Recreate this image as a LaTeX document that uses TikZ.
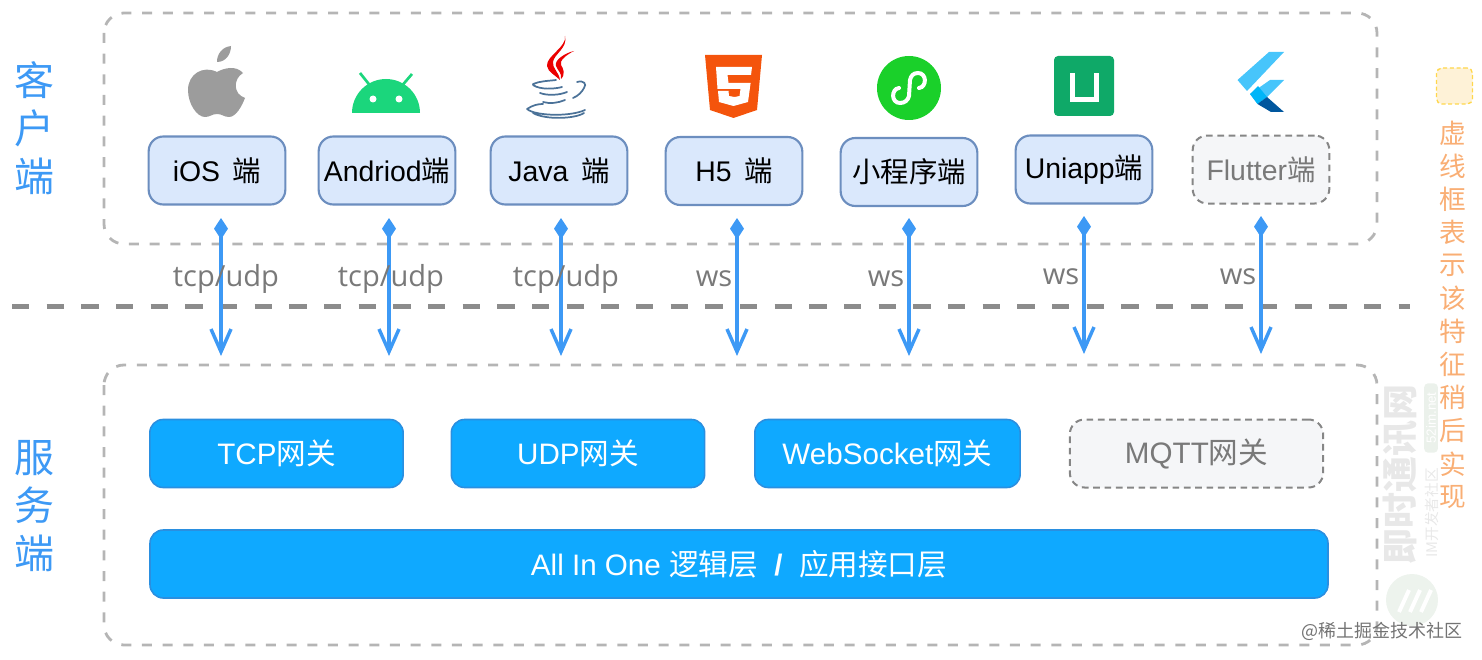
\documentclass[tikz,border=0pt]{standalone}
\usepackage{fontspec}
\usepackage{xcolor}
\setmainfont{Liberation Sans}
\newfontfamily\cjk{Noto Sans CJK SC}
\newfontfamily\lbl{Open Sans}
\usetikzlibrary{arrows.meta}
\usetikzlibrary{positioning}
\definecolor{clientfill}{HTML}{DAE8FC}
\definecolor{clientline}{HTML}{6C8EBF}
\definecolor{gatefill}{HTML}{0FA9FF}
\definecolor{gateline}{HTML}{2A8FE0}
\definecolor{ghostfill}{HTML}{F5F6F8}
\definecolor{framegray}{HTML}{B5B5B5}
\definecolor{linkblue}{HTML}{3D99F5}
\definecolor{sidered}{HTML}{F9AE74}
\definecolor{androidgreen}{HTML}{1BD67C}
\definecolor{minigreen}{HTML}{1AD02A}
\definecolor{unigreen}{HTML}{0FA968}
\definecolor{htmlorange}{HTML}{F4540C}
\definecolor{javablue}{HTML}{4B7298}
\definecolor{flutterlight}{HTML}{47C5FB}
\definecolor{fluttermid}{HTML}{00B5F8}
\definecolor{flutterdark}{HTML}{00569E}
\tikzset{
  framebox/.style={draw=framegray,line width=2.1pt,dash pattern=on 7.5pt off 8pt,rounded corners=15pt},
  clientbox/.style={draw=clientline,fill=clientfill,line width=1.6pt,rounded corners=11pt,minimum width=102.5pt,minimum height=51pt,inner sep=0pt,font=\fontsize{21.3}{25}\selectfont},
  ghostbox/.style={draw=gray!95,fill=ghostfill,line width=1.5pt,dash pattern=on 5pt off 3.5pt,rounded corners=11pt,text=gray!95!black,inner sep=0pt},
  gatebox/.style={draw=gateline,fill=gatefill,line width=1.2pt,rounded corners=10pt,minimum width=190pt,minimum height=51pt,inner sep=0pt,text=white,font=\fontsize{22.2}{25}\selectfont},
  sidelabel/.style={text=linkblue,font=\cjk\fontsize{30}{34}\selectfont,inner sep=0pt},
  notelabel/.style={text=sidered,font=\cjk\fontsize{20}{24}\selectfont,inner sep=0pt},
  linklabel/.style={text=gray!95!black,font=\lbl\fontsize{21.8}{24}\selectfont,inner sep=0pt},
  linkarrow/.style={draw=linkblue,line width=2.6pt,{Diamond[length=16pt,width=10.5pt,line width=0pt,fill=linkblue]}-{Straight Barb[length=17pt,width=15pt,line width=2.6pt]}},
}
\begin{document}
\begin{tikzpicture}[x=0.75pt,y=0.75pt,yscale=-1,xscale=1]
\useasboundingbox (0,0) rectangle (1482,660);

% watermark
\node [rotate=90,text=black!9,font=\cjk\bfseries\fontsize{27}{30}\selectfont,inner sep=0pt] (wmname) at (1400,474) {即时通讯网};
\node [rotate=90,text=black!9,font=\cjk\fontsize{11}{13}\selectfont,inner sep=0pt] (wmsub) at (1432,513) {IM开发者社区};
\node [rotate=90,fill=green!30!black!8,text=white,rounded corners=3pt,font=\fontsize{10}{12}\selectfont,inner sep=1.5pt,minimum width=52pt] (wmurl) at (1431,418) {52im.net};
\fill [green!30!black!7] (1412,600) circle (26);
\draw [white,line width=3pt] (1399,612) -- (1409,590) (1410,612) -- (1420,590) (1421,612) -- (1431,590);

% frames
\draw [framebox] (104,13) rectangle (1377,244);
\draw [framebox] (104,365) rectangle (1377,645);
\draw [draw=gray!90,line width=3.75pt,dash pattern=on 13pt off 13pt] (12,306) -- (1410,306);

% side labels
\node [sidelabel] (ke) at (34,80) {客};
\node [sidelabel,below=8pt of ke] (hu) {户};
\node [sidelabel,below=8pt of hu] (duana) {端};
\node [sidelabel] (fu) at (34,458) {服};
\node [sidelabel,below=8pt of fu] (wu) {务};
\node [sidelabel,below=8pt of wu] (duanb) {端};

% client boxes
\node [clientbox] (ios) at (217,170.5) {iOS\, {\cjk 端}};
\node [clientbox] (android) at (387,170.5) {Andriod{\cjk 端}};
\node [clientbox] (java) at (559,170.5) {Java\, {\cjk 端}};
\node [clientbox] (hfive) at (734,171) {H5\, {\cjk 端}};
\node [clientbox] (mini) at (909,172) {\cjk 小程序端};
\node [clientbox] (uni) at (1084,169.5) {\raisebox{-1pt}{Uniapp{\cjk 端}}};
\node [clientbox,ghostbox] (flutter) at (1261,169.5) {Flutter{\cjk 端}};

% gateways
\node [gatebox] (tcp) at (276.5,453.5) {\raisebox{1pt}{TCP{\cjk 网关}}};
\node [gatebox] (udp) at (578,453.5) {\raisebox{1pt}{UDP{\cjk 网关}}};
\node [gatebox,minimum width=199pt] (ws) at (887.5,453.5) {\raisebox{1pt}{WebSocket{\cjk 网关}}};
\node [gatebox,ghostbox,minimum width=190pt] (mqtt) at (1196.5,453.5) {MQTT{\cjk 网关}};
\node [gatebox,minimum width=883.5pt] (logic) at (739,564) {All In One {\cjk 逻辑层} {\bfseries ~/~} {\cjk 应用接口层}};

% apple
\fill [gray!78] (217,72) .. controls (224,68) and (236,65) .. (243,73) .. controls (233,79) and (233,94) .. (245,98) .. controls (242,106) and (236,117) .. (229,117) .. controls (224,117) and (222,114) .. (217,114) .. controls (212,114) and (210,117) .. (205,117) .. controls (197,117) and (188,104) .. (188,90) .. controls (188,74) and (203,65) .. (217,72) -- cycle;
\fill [gray!78] (217,62) .. controls (217,54) and (222,47) .. (231,46) .. controls (231,54) and (226,62) .. (217,62) -- cycle;

% android
\fill [androidgreen] (352,113) arc [start angle=180,end angle=360,radius=34] -- cycle;
\draw [androidgreen,line width=2pt] (360,73) -- (372,88) (412,74) -- (400,88);
\fill [white] (373,99) circle (3.5) (399,99) circle (3.5);

% java
\fill [red!92!black] (565,36) .. controls (567,47) and (546,56) .. (547,66) .. controls (548,72) and (555,75) .. (560,80) .. controls (559,72) and (552,68) .. (553,62) .. controls (554,54) and (568,48) .. (565,36) -- cycle;
\fill [red!92!black] (574,51) .. controls (565,53) and (554,60) .. (556,66) .. controls (558,71) and (562,73) .. (561,79) .. controls (566,74) and (563,68) .. (561,65) .. controls (559,61) and (566,55) .. (574,51) -- cycle;
\draw [javablue,line width=1.3pt,line cap=round]
  (533,85) .. controls (540,90) and (555,89) .. (562,87)
  (540,93) .. controls (548,96) and (560,95) .. (567,92)
  (543,102) .. controls (550,104) and (558,103) .. (565,100)
  (577,82) .. controls (584,80) and (587,84) .. (584,88) .. controls (582,92) and (578,96) .. (573,98)
  (533,84) .. controls (540,81) and (548,81) .. (556,80)
  (527,109) .. controls (533,105) and (538,104) .. (543,104)
  (527,109) .. controls (535,116) and (570,117) .. (585,110)
  (533,113) .. controls (545,120) and (575,119) .. (584,113);

% html5
\fill [htmlorange] (705,55) -- (762,55) -- (757,110) -- (733.5,118) -- (710,110) -- cycle;
\fill [white] (716,67) -- (752,67) -- (751,75) -- (727.5,75) -- (728.5,83) -- (750.6,83) -- (748,102) -- (733.5,106) -- (719,102) -- (718,91) -- (728.5,91) -- (729,96) -- (734.5,97) -- (739.5,96) -- (740.5,89) -- (717.5,89) -- cycle;

% mini program
\fill [minigreen] (909,88) circle (32);
\draw [white,line width=3pt,line cap=round] (899,88) .. controls (891,89) and (891,103) .. (900,103) .. controls (905,103) and (908,100) .. (909,96) -- (910,80) .. controls (911,76) and (913,73) .. (918,73) .. controls (927,73) and (927,87) .. (919,88);

% uniapp
\fill [unigreen,rounded corners=3pt] (1054,56) rectangle (1114,116);
\draw [white,line width=3.75pt] (1072.5,73) -- (1072.5,99.5) -- (1096.5,99.5) -- (1096.5,73);

% flutter
\fill [flutterlight] (1269,52) -- (1284,52) -- (1247,91) -- (1237.5,80) -- cycle;
\fill [flutterlight] (1270,80) -- (1284,80) -- (1267,97) -- (1257.5,104) -- (1250,94) -- cycle;
\fill [fluttermid] (1250,94) -- (1258,86) -- (1267,97) -- (1257.5,104) -- cycle;
\fill [flutterdark] (1267,97) -- (1284,112) -- (1271,112) -- (1257.5,104) -- cycle;

% links
\foreach \name/\px/\py/\qy in {a/221/218/356,b/389/218/356,c/561/218/356,d/737/218/356,e/909/218/356,f/1084/216/354,g/1261/216/354}{
  \coordinate (from\name) at (\px,\py);
  \coordinate (to\name) at (\px,\qy);
  \draw [linkarrow] (from\name) -- (to\name);
}
\node [linklabel] (la) at (226,279) {tcp/udp};
\node [linklabel] (lb) at (391,279) {tcp/udp};
\node [linklabel] (lc) at (566,279) {tcp/udp};
\node [linklabel] (ld) at (714,279) {ws};
\node [linklabel] (le) at (886,279) {ws};
\node [linklabel] (lf) at (1061,277) {ws};
\node [linklabel] (lg) at (1238,277) {ws};

% note on the right
\node [fill=yellow!35!orange!14,draw=orange!45!yellow!70,line width=1pt,dash pattern=on 3pt off 2pt,rounded corners=4pt,minimum size=27pt,inner sep=0pt] (legend) at (1454.5,86) {};
\foreach \ch [count=\i from 0] in {虚,线,框,表,示,该,特,征,稍,后,实,现}{
  \node [notelabel] (note\i) at (1453,133+33.1*\i) {\ch};
}

\node [text=gray!90!black,font=\cjk\fontsize{13.5}{16}\selectfont,inner sep=0pt] (credit) at (1382,631) {@稀土掘金技术社区};
\end{tikzpicture}
\end{document}
